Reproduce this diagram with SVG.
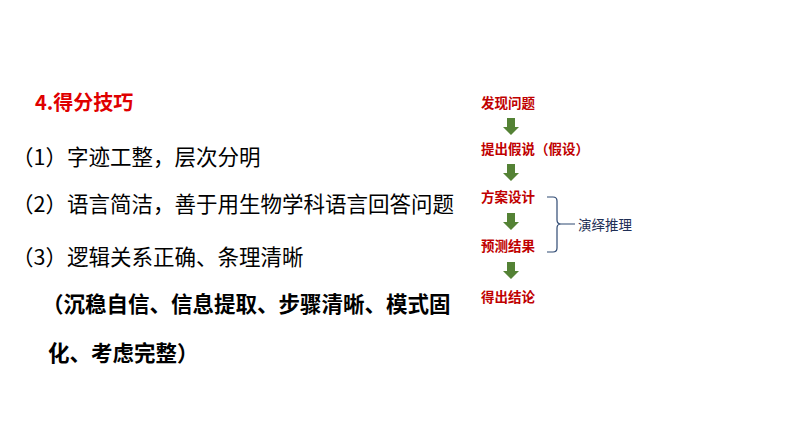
<svg xmlns="http://www.w3.org/2000/svg" width="794" height="447" viewBox="0 0 794 447">
<style>
.l{font-family:"Noto Sans CJK SC",sans-serif;font-size:21.5px;fill:#000}
.b{font-weight:bold}
.s{font-family:"Noto Sans CJK SC",sans-serif;font-size:13.5px;font-weight:bold;fill:#C00000}
</style>
<defs><path id="ar" d="M-4,0 H4 V9 H8 L0,17 L-8,9 H-4 Z" fill="#548235"/></defs>
<rect width="794" height="447" fill="#fff"/>
<g id="left">
<text x="35" y="110" style="font-family:'Noto Sans CJK SC',sans-serif;font-size:20px;font-weight:bold;fill:#E00000">4.得分技巧</text>
<text class="l" x="12" y="165">（1）字迹工整，层次分明</text>
<text class="l" x="12" y="212">（2）语言简洁，善于用生物学科语言回答问题</text>
<text class="l" x="12" y="265">（3）逻辑关系正确、条理清晰</text>
<text class="l b" x="42" y="312">（沉稳自信、信息提取、步骤清晰、模式固</text>
<text class="l b" x="48" y="361">化、考虑完整）</text>
</g>
<g id="n1"><text class="s" x="481" y="108">发现问题</text></g>
<g id="n2"><text class="s" x="481" y="154">提出假说（假设）</text></g>
<g id="n3"><text class="s" x="481" y="202">方案设计</text></g>
<g id="n4"><text class="s" x="481" y="251">预测结果</text></g>
<g id="n5"><text class="s" x="481" y="302">得出结论</text></g>
<g id="n6"><text x="578" y="230" style="font-family:'Noto Sans CJK SC',sans-serif;font-size:13.5px;fill:#1F2F55">演绎推理</text></g>
<g id="connectors">
<use href="#ar" x="511" y="118"/>
<use href="#ar" x="511" y="164"/>
<use href="#ar" x="511" y="213"/>
<use href="#ar" x="511" y="262"/>
<path d="M547,197 H553 Q557,197 557,201 V220 Q557,224 561,224 Q557,224 557,228 V248 Q557,252 553,252 H547 M561,224 H575" fill="none" stroke="#2F4A73" stroke-width="1.2"/>
</g>
</svg>
